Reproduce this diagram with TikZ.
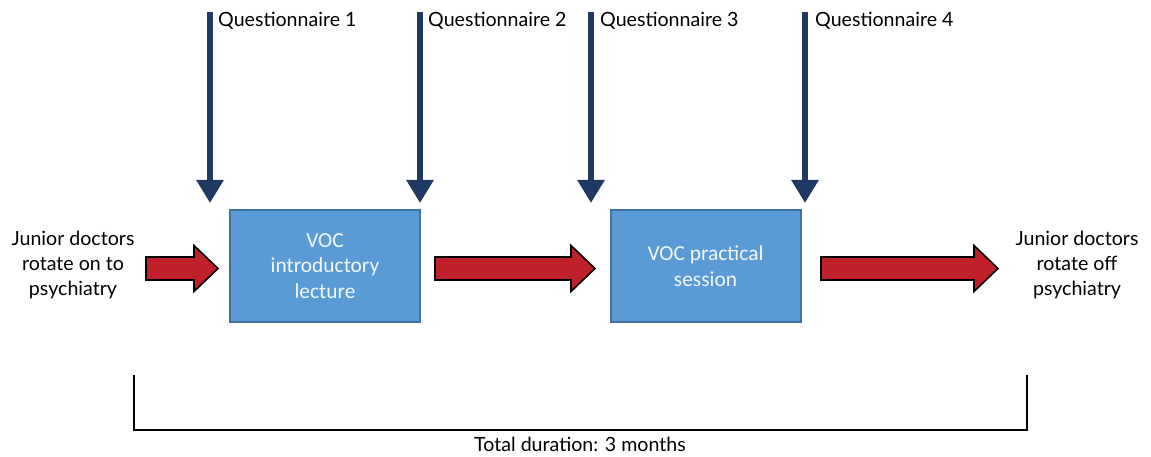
\documentclass[tikz,border=0pt]{standalone}
\usepackage{fontspec}
\setmainfont{Lato}
\newfontfamily\boxfont{Carlito}
\usetikzlibrary{arrows.meta}
\definecolor{boxfill}{HTML}{5B9BD5}
\definecolor{boxline}{HTML}{41719C}
\definecolor{navy}{HTML}{203864}
\definecolor{arrowred}{HTML}{C0202A}
\begin{document}
\begin{tikzpicture}[x=1pt,y=-1pt,
  stage/.style={draw=boxline,line width=2pt,fill=boxfill,minimum width=190pt,minimum height=112pt,
    text=white!92!boxfill,font=\boxfont\fontsize{21.4}{25.5}\selectfont,align=center,inner sep=0pt},
  label/.style={font=\fontsize{19.6}{25}\selectfont,align=center,inner sep=0pt},
  qlabel/.style={font=\fontsize{19.6}{22}\selectfont,anchor=west,inner sep=0pt},
  qarrow/.style={draw=navy,line width=6pt,-{Triangle[width=26pt,length=23pt]}},
  redarrow/.style={draw=black,line width=1.6pt,fill=arrowred,line join=miter},
  bracket/.style={draw=black,line width=2pt}]
\useasboundingbox (0,0) rectangle (1151,457);

% stages
\node[stage] (lecture) at (325,266) {VOC\\introductory\\lecture};
\node[stage] (practical) at (705.5,266) {VOC practical\\session};

% start and end texts
\node[label] (start) at (73,265) {Junior doctors\\rotate on to\\psychiatry};
\node[label] (finish) at (1077,265) {Junior doctors\\rotate off\\psychiatry};

% questionnaire time points
\coordinate (q1top) at (210,12);  \coordinate (q1tip) at (210,203);
\coordinate (q2top) at (420,12);  \coordinate (q2tip) at (420,203);
\coordinate (q3top) at (591,12);  \coordinate (q3tip) at (591,203);
\coordinate (q4top) at (805,12);  \coordinate (q4tip) at (805,203);
\draw[qarrow] (q1top) -- (q1tip);
\draw[qarrow] (q2top) -- (q2tip);
\draw[qarrow] (q3top) -- (q3tip);
\draw[qarrow] (q4top) -- (q4tip);
\node[qlabel] (q1) at (218,21) {Questionnaire 1};
\node[qlabel] (q2) at (428,21) {Questionnaire 2};
\node[qlabel] (q3) at (600,21) {Questionnaire 3};
\node[qlabel] (q4) at (815,21) {Questionnaire 4};

% block arrows between stages
\newcommand\blockarrow[3]{% x start, x tip, y centre
  \pgfmathsetmacro\headx{#2-24}
  \draw[redarrow] (#1,#3-11.5) -- (\headx,#3-11.5) -- (\headx,#3-23) -- (#2,#3)
    -- (\headx,#3+23) -- (\headx,#3+11.5) -- (#1,#3+11.5) -- cycle;}
\blockarrow{146}{218}{268.5}
\blockarrow{435}{595}{268.5}
\blockarrow{821}{998}{268.5}

% total duration bracket
\coordinate (bl) at (134,375);
\coordinate (br) at (1027,375);
\draw[bracket] (bl) -- (134,430) -- (1027,430) -- (br);
\node[label] (total) at (580,444) {Total duration: 3 months};
\end{tikzpicture}
\end{document}
